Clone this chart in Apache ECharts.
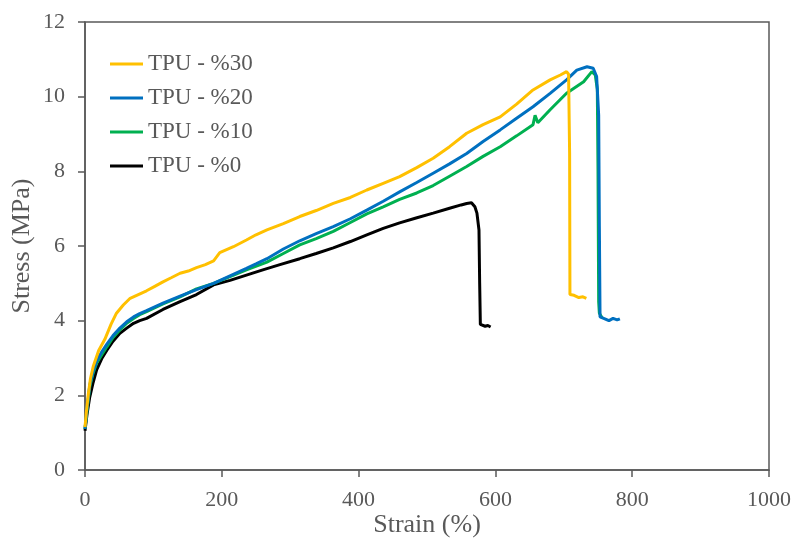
<!DOCTYPE html>
<html>
<head>
<meta charset="utf-8">
<script src="https://cdn.jsdelivr.net/npm/echarts@6/dist/echarts.min.js"></script>
<style>
  html, body { margin: 0; padding: 0; background: #fff; }
  #chart { width: 795px; height: 538px; }
</style>
</head>
<body>
<div id="chart"></div>
<script>
// 图例名称
const seriesNames = ['TPU - %30', 'TPU - %20', 'TPU - %10', 'TPU - %0'];
const seriesColors = ['#FFC000', '#0070C0', '#00B050', '#000000'];

// [strain %, stress MPa]
const tpu30 = [
  [0, 1.15], [2, 1.55], [5, 2.05], [8, 2.45], [12, 2.77], [20, 3.2], [29, 3.5], [38, 3.9],
  [46, 4.2], [56, 4.42], [66, 4.6], [78, 4.7], [90, 4.8], [102, 4.92], [114, 5.04], [126, 5.15],
  [139, 5.27], [151, 5.33], [163, 5.42], [176, 5.5], [188, 5.6], [197, 5.82], [207, 5.9],
  [217, 5.98], [236, 6.16], [250, 6.3], [266, 6.43], [290, 6.6], [314, 6.79], [338, 6.95],
  [363, 7.14], [388, 7.3], [412, 7.5], [436, 7.68], [460, 7.86], [485, 8.1], [509, 8.35],
  [533, 8.66], [558, 9.02], [582, 9.25], [607, 9.46], [631, 9.8], [655, 10.18], [680, 10.45],
  [695, 10.58], [704, 10.67], [707, 10.6], [708.5, 8.5], [709, 4.7], [715, 4.68], [722, 4.62],
  [728, 4.64], [733, 4.6]
];
const tpu20 = [
  [0, 1.1], [3, 1.65], [7, 2.28], [12, 2.65], [17, 2.92], [25, 3.18], [32, 3.37], [41, 3.6],
  [51, 3.8], [61, 3.97], [71, 4.1], [80, 4.19], [90, 4.27], [114, 4.47], [139, 4.66],
  [163, 4.83], [188, 5.0], [212, 5.2], [236, 5.4], [250, 5.52], [266, 5.66], [290, 5.92],
  [314, 6.14], [338, 6.33], [363, 6.52], [388, 6.73], [412, 6.96], [436, 7.2], [460, 7.45],
  [485, 7.7], [509, 7.95], [533, 8.2], [558, 8.48], [582, 8.8], [607, 9.11], [631, 9.42],
  [655, 9.73], [680, 10.09], [704, 10.45], [719, 10.71], [734, 10.8], [743, 10.76],
  [748, 10.54], [751, 9.5], [752, 6.5], [753, 4.1], [760, 4.05], [766, 4.0], [772, 4.06],
  [778, 4.02], [782, 4.05]
];
const tpu10 = [
  [0, 1.1], [3, 1.6], [7, 2.23], [12, 2.6], [17, 2.86], [25, 3.1], [32, 3.3], [41, 3.55],
  [51, 3.75], [61, 3.93], [71, 4.06], [80, 4.16], [90, 4.24], [114, 4.45], [139, 4.64],
  [163, 4.85], [188, 5.0], [212, 5.18], [236, 5.36], [266, 5.57], [290, 5.8], [314, 6.03],
  [338, 6.2], [363, 6.39], [388, 6.63], [412, 6.86], [436, 7.05], [460, 7.25], [485, 7.42],
  [509, 7.62], [533, 7.87], [558, 8.13], [582, 8.4], [607, 8.66], [631, 8.95], [655, 9.25],
  [658, 9.5], [662, 9.3], [680, 9.65], [704, 10.09], [729, 10.4], [741, 10.67], [746, 10.58],
  [749, 10.2], [750, 8.0], [751, 4.5], [752, 4.2], [756, 4.08]
];
const tpu0 = [
  [0, 1.05], [3, 1.5], [7, 1.96], [12, 2.35], [17, 2.68], [25, 3.0], [32, 3.21], [41, 3.45],
  [51, 3.66], [61, 3.8], [71, 3.93], [80, 4.0], [90, 4.06], [114, 4.3], [139, 4.51],
  [163, 4.7], [188, 4.96], [212, 5.08], [236, 5.22], [260, 5.36], [285, 5.5], [314, 5.66],
  [338, 5.8], [363, 5.95], [388, 6.12], [412, 6.3], [436, 6.47], [460, 6.62], [484, 6.75],
  [509, 6.88], [533, 7.01], [550, 7.1], [558, 7.14], [565, 7.16], [570, 7.05], [573, 6.88],
  [576, 6.43], [577, 5.0], [578, 3.9], [585, 3.85], [589, 3.87], [593, 3.83]
];
const seriesData = [tpu30, tpu20, tpu10, tpu0];

const xTicks = { min: 0, max: 1000, interval: 200 };
const yTicks = { min: 0, max: 12, interval: 2 };

const fontFamily = "'Liberation Serif', 'Times New Roman', serif";
const textColor = '#595959';

const series = [];
for (let i = 0; i < seriesData.length; i++) {
  series.push({
    name: seriesNames[i],
    type: 'line',
    data: seriesData[i],
    showSymbol: false,
    symbol: 'none',
    smooth: false,
    lineStyle: { color: seriesColors[i], width: 3 },
    itemStyle: { color: seriesColors[i] },
    z: 10 - i,
  });
}

const option = {
  animation: false,
  backgroundColor: '#fff',
  grid: {
    left: 85,
    right: 26,
    top: 22,
    bottom: 68,
    containLabel: false,
    outerBoundsMode: 'none',
    show: true,
    borderColor: textColor,
    borderWidth: 1.5,
  },
  legend: {
    data: seriesNames,
    orient: 'vertical',
    left: 110,
    top: 52,
    padding: 0,
    icon: 'rect',
    itemWidth: 33,
    itemHeight: 3,
    itemGap: 10,
    textStyle: {
      color: textColor,
      fontSize: 23,
      lineHeight: 24,
      fontFamily,
    },
  },
  xAxis: {
    type: 'value',
    min: xTicks.min,
    max: xTicks.max,
    interval: xTicks.interval,
    name: 'Strain (%)',
    nameLocation: 'middle',
    nameGap: 42,
    nameMoveOverlap: false,
    nameTextStyle: { color: textColor, fontSize: 26, fontFamily },
    axisLine: { show: true, lineStyle: { color: textColor, width: 1.5 } },
    axisTick: { show: true, inside: false, length: 7, lineStyle: { color: textColor, width: 1.5 } },
    axisLabel: {
      color: textColor,
      fontSize: 22,
      fontFamily,
      margin: 19,
      formatter: function (v) { return String(v); },
    },
    splitLine: { show: false },
  },
  yAxis: {
    type: 'value',
    min: yTicks.min,
    max: yTicks.max,
    interval: yTicks.interval,
    name: 'Stress (MPa)',
    nameLocation: 'middle',
    nameGap: 50,
    nameMoveOverlap: false,
    nameTextStyle: { color: textColor, fontSize: 26, fontFamily },
    axisLine: { show: true, lineStyle: { color: textColor, width: 1.5 } },
    axisTick: { show: true, inside: false, length: 7, lineStyle: { color: textColor, width: 1.5 } },
    axisLabel: { color: textColor, fontSize: 22, fontFamily, margin: 20 },
    splitLine: { show: false },
  },
  series,
};

const myChart = echarts.init(document.getElementById('chart'));
myChart.setOption(option);
</script>
</body>
</html>
